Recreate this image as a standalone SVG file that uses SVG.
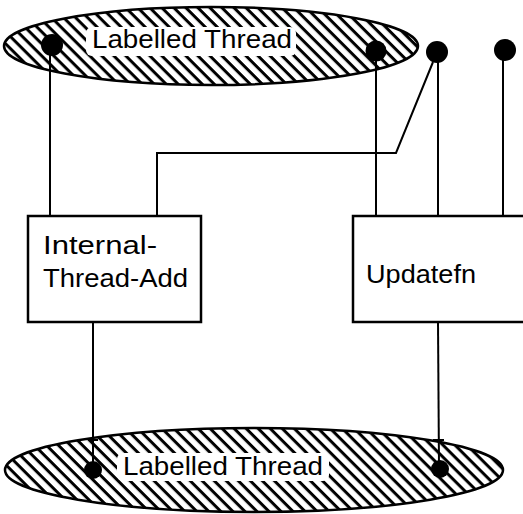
<svg xmlns="http://www.w3.org/2000/svg" width="523" height="514" viewBox="0 0 523 514">
<style>
.ln{stroke:#000;stroke-width:2;fill:none}
.box{fill:#fff;stroke:#000;stroke-width:2.5}
.ell{fill:url(#hatch);stroke:#000;stroke-width:2.5}
.dot{fill:#000}
.t{font-family:"Liberation Sans","DejaVu Sans",sans-serif;font-size:25px;fill:#000}
.lbl{fill:#fff}
</style>
<defs>
<pattern id="hatch" patternUnits="userSpaceOnUse" width="8.5" height="8.5" patternTransform="rotate(45)">
<rect width="8.5" height="8.5" fill="#fff"/>
<rect y="0" width="8.5" height="3" fill="#000"/>
</pattern>
</defs>
<rect width="523" height="514" fill="#fff"/>
<g id="thread-top">
<ellipse class="ell" cx="211" cy="46" rx="207" ry="39"/>
<rect class="lbl" x="86" y="27" width="210" height="29" rx="6"/>
<text class="t" x="92" y="48" textLength="200" lengthAdjust="spacingAndGlyphs">Labelled Thread</text>
</g>
<g id="thread-bottom">
<ellipse class="ell" cx="254" cy="470" rx="249" ry="42"/>
<rect class="lbl" x="117" y="453" width="212" height="28" rx="6"/>
<text class="t" x="123" y="475" textLength="200" lengthAdjust="spacingAndGlyphs">Labelled Thread</text>
</g>
<g id="connectors">
<line class="ln" x1="50" y1="45" x2="50" y2="216"/>
<line class="ln" x1="376" y1="50" x2="376" y2="216"/>
<line class="ln" x1="438" y1="55" x2="438" y2="216"/>
<line class="ln" x1="503" y1="50" x2="503" y2="216"/>
<polyline class="ln" points="433,62 396,153 157,153 157,216"/>
<line class="ln" x1="93" y1="322" x2="93" y2="470"/>
<line class="ln" x1="438" y1="322" x2="439" y2="468"/>
<line class="ln" x1="88" y1="440" x2="98" y2="440"/>
<line class="ln" x1="433" y1="440" x2="444" y2="440"/>
<circle class="dot" cx="52" cy="45" r="11"/>
<circle class="dot" cx="376" cy="51" r="10.5"/>
<circle class="dot" cx="437" cy="52" r="11"/>
<circle class="dot" cx="505" cy="50" r="11"/>
<circle class="dot" cx="93" cy="470" r="9"/>
<circle class="dot" cx="440" cy="469" r="9"/>
</g>
<g id="internal-thread-add">
<rect class="box" x="28" y="216" width="173" height="106"/>
<text class="t" x="43" y="254" textLength="114" lengthAdjust="spacingAndGlyphs">Internal-</text>
<text class="t" x="43" y="287" textLength="145" lengthAdjust="spacingAndGlyphs">Thread-Add</text>
</g>
<g id="updatefn">
<rect class="box" x="353" y="216" width="180" height="106"/>
<text class="t" x="366" y="283" textLength="110" lengthAdjust="spacingAndGlyphs">Updatefn</text>
</g>
</svg>
